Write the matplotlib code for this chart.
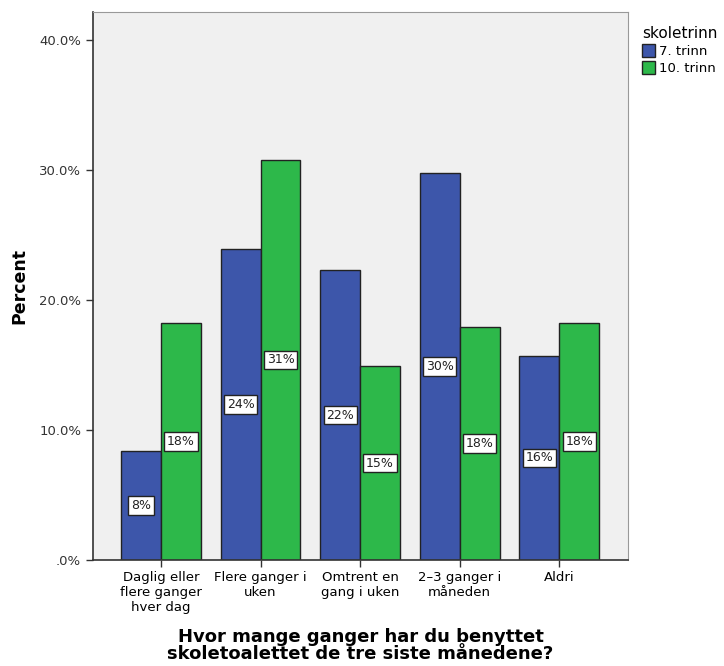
import matplotlib
matplotlib.use("Agg")
import matplotlib.pyplot as plt
import numpy as np
from matplotlib.patches import Patch

categories = ["Daglig eller\nflere ganger\nhver dag", "Flere ganger i\nuken",
              "Omtrent en\ngang i uken", "2–3 ganger i\nmåneden", "Aldri"]
series_names = ["7. trinn", "10. trinn"]
trinn7 = [8.4, 23.9, 22.3, 29.8, 15.7]
trinn10 = [18.2, 30.8, 14.9, 17.9, 18.2]
y_ticks = [0, 10, 20, 30, 40]
y_tick_labels = [".0%", "10.0%", "20.0%", "30.0%", "40.0%"]

colors = ["#3d56aa", "#2db84a"]

fig = plt.figure(figsize=(7.24, 6.66), dpi=100)
ax = fig.add_axes([93 / 724, 1 - 560 / 666, (628 - 93) / 724, (560 - 12) / 666])
ax.set_facecolor("#f0f0f0")

x = np.arange(len(categories))
w = 0.40
for i, (vals, col) in enumerate(zip([trinn7, trinn10], colors)):
    pos = x + (i - 0.5) * w
    ax.bar(pos, vals, width=w, color=col, edgecolor="#222222", linewidth=1.0, zorder=2)
    for p, v in zip(pos, vals):
        ax.text(p, v / 2, f"{v:.0f}%", ha="center", va="center", fontsize=9,
                color="#222222", zorder=3,
                bbox=dict(boxstyle="square,pad=0.22", facecolor="white",
                          edgecolor="#222222", linewidth=1.0))

ax.set_xlim(-0.683, 4.69)
ax.set_ylim(0, 42.15)
ax.set_xticks(x)
ax.set_xticklabels(categories, fontsize=9.5, linespacing=1.2)
ax.set_yticks(y_ticks)
ax.set_yticklabels(y_tick_labels, fontsize=9.5, color="#333333")
ax.tick_params(axis="both", direction="out", length=5, width=1.0, color="#333333")
ax.tick_params(axis="x", pad=3)

for s in ["left", "bottom"]:
    ax.spines[s].set_color("#333333")
    ax.spines[s].set_linewidth(1.2)
for s in ["top", "right"]:
    ax.spines[s].set_color("#999999")
    ax.spines[s].set_linewidth(0.8)

ax.set_ylabel("Percent", fontsize=12.5, fontweight="bold", labelpad=8)
ax.set_xlabel("Hvor mange ganger har du benyttet\nskoletoalettet de tre siste månedene?",
              fontsize=13, fontweight="bold", labelpad=10, linespacing=0.9)

handles = [Patch(facecolor=c, edgecolor="#222222", label=n) for c, n in zip(colors, series_names)]
leg = fig.legend(handles=handles, title="skoletrinn", loc="upper left",
                 bbox_to_anchor=(634 / 724, 1 - 18 / 666), frameon=False,
                 fontsize=9.5, title_fontsize=11, handlelength=1.0, handleheight=1.1,
                 handletextpad=0.3, labelspacing=0.25, borderpad=0.1)
leg._legend_box.align = "left"

fig.savefig("out.png", dpi=100)
